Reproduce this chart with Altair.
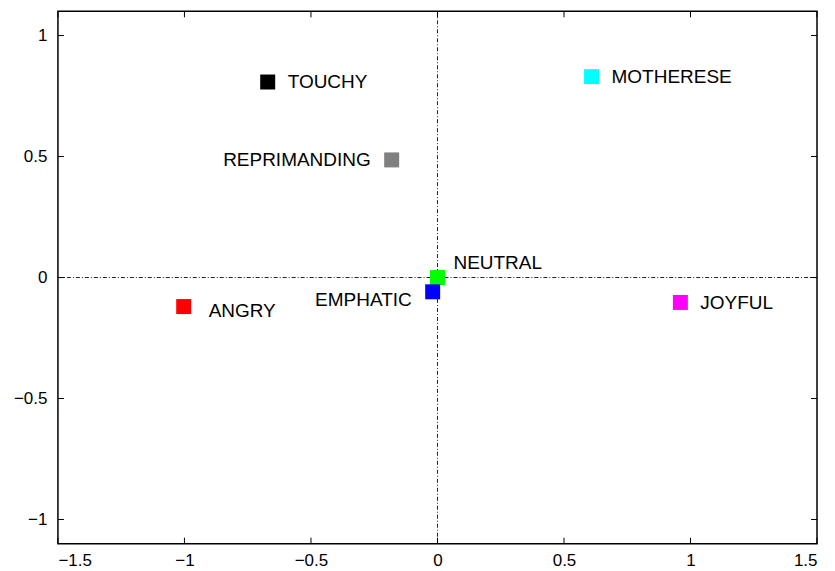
import altair as alt
import pandas as pd

labels = ["TOUCHY", "REPRIMANDING", "NEUTRAL", "EMPHATIC", "ANGRY", "MOTHERESE", "JOYFUL"]
xs = [-0.671, -0.181, 0.0, -0.019, -1.003, 0.609, 0.960]
ys = [0.808, 0.486, 0.0, -0.059, -0.120, 0.830, -0.103]
colors = ["#000000", "#808080", "#00ff00", "#0000ff", "#ff0000", "#00ffff", "#ff00ff"]

x_ticks = [-1.5, -1, -0.5, 0, 0.5, 1, 1.5]
y_ticks = [-1, -0.5, 0, 0.5, 1]

df = pd.DataFrame({"label": labels, "x": xs, "y": ys, "color": colors})
xt = pd.DataFrame({"v": x_ticks})
yt = pd.DataFrame({"v": y_ticks})

W, H = 760, 533
FONT = "Liberation Sans"
xs_scale = alt.Scale(domain=[-1.5, 1.5], nice=False, zero=False)
ys_scale = alt.Scale(domain=[-1.1, 1.1], nice=False, zero=False)


def label_axis(orient):
    return alt.Axis(orient=orient, values=x_ticks if orient == "bottom" else y_ticks,
                    domain=False, grid=False, ticks=False, tickSize=0, title=None,
                    format="~g", labelFont=FONT, labelFontSize=17, labelColor="#000000",
                    labelPadding=9 if orient == "bottom" else 11)


dash = [4, 2, 1, 2]
hline = alt.Chart(pd.DataFrame({"y": [0.0]})).mark_rule(
    color="#222222", strokeWidth=1, strokeDash=dash
).encode(y=alt.Y("y:Q", scale=ys_scale, axis=label_axis("left")))

vline = alt.Chart(pd.DataFrame({"x": [0.0]})).mark_rule(
    color="#222222", strokeWidth=1, strokeDash=dash
).encode(x=alt.X("x:Q", scale=xs_scale, axis=label_axis("bottom")))

# inward tick marks on all four sides
tick_style = dict(color="#000000", strokeWidth=1)
t_bottom = alt.Chart(xt).mark_rule(**tick_style).encode(
    x=alt.X("v:Q", scale=xs_scale, axis=None), y=alt.value(H), y2=alt.value(H - 6))
t_top = alt.Chart(xt).mark_rule(**tick_style).encode(
    x=alt.X("v:Q", scale=xs_scale, axis=None), y=alt.value(0), y2=alt.value(6))
t_left = alt.Chart(yt).mark_rule(**tick_style).encode(
    y=alt.Y("v:Q", scale=ys_scale, axis=None), x=alt.value(0), x2=alt.value(6))
t_right = alt.Chart(yt).mark_rule(**tick_style).encode(
    y=alt.Y("v:Q", scale=ys_scale, axis=None), x=alt.value(W), x2=alt.value(W - 6))

base = alt.Chart(df)
points = base.mark_square(size=225, opacity=1).encode(
    x=alt.X("x:Q", scale=xs_scale, axis=None),
    y=alt.Y("y:Q", scale=ys_scale, axis=None),
    color=alt.Color("color:N", scale=None),
)

offsets = {
    "TOUCHY": (20, 0, "left"),
    "REPRIMANDING": (-21, 0, "right"),
    "NEUTRAL": (16, -15, "left"),
    "EMPHATIC": (-21, 8, "right"),
    "ANGRY": (25, 4, "left"),
    "MOTHERESE": (20, 0, "left"),
    "JOYFUL": (20, 1, "left"),
}

texts = []
for lab, (dx, dy, al) in offsets.items():
    t = base.transform_filter(alt.datum.label == lab).mark_text(
        align=al, baseline="middle", dx=dx, dy=dy, font=FONT, fontSize=19, color="#000000"
    ).encode(
        x=alt.X("x:Q", scale=xs_scale, axis=None),
        y=alt.Y("y:Q", scale=ys_scale, axis=None),
        text="label:N",
    )
    texts.append(t)

chart = alt.layer(hline, vline, t_bottom, t_top, t_left, t_right, points, *texts).resolve_axis(
    x="independent", y="independent"
).properties(
    width=W, height=H,
    autosize=alt.AutoSizeParams(type="none"),
    padding={"left": 50, "top": 3, "right": 10, "bottom": 40},
).configure_view(
    stroke="#000000", strokeWidth=1.5
)

chart.save("out.html", embed_options={"renderer": "svg", "actions": False})
